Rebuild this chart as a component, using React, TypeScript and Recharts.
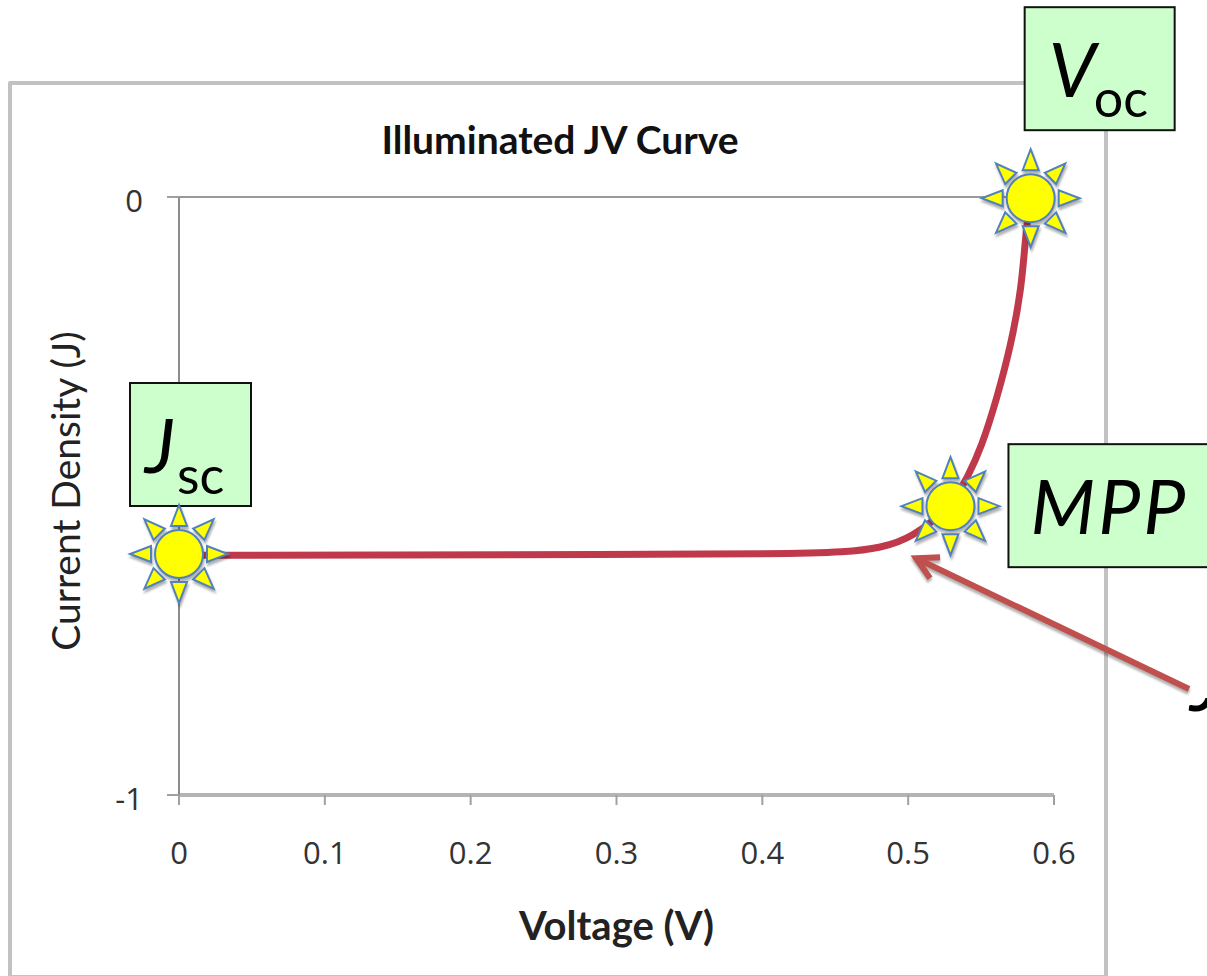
import {
  CartesianGrid,
  ComposedChart,
  Label,
  Line,
  ReferenceLine,
  Scatter,
  XAxis,
  YAxis,
} from "recharts";

const FONT = "Lato, 'Open Sans', sans-serif";
const TICK_FONT = "'Open Sans', sans-serif";

// voltage (V) and current density (J)
const curveVoltage = [0, 0.15, 0.29, 0.412, 0.458, 0.481, 0.503, 0.529, 0.541, 0.5503, 0.5606, 0.5709, 0.5777, 0.5801, 0.5822, 0.5835];
const curveCurrent = [-0.599, -0.599, -0.598, -0.597, -0.594, -0.587, -0.57, -0.517, -0.468, -0.418, -0.339, -0.244, -0.151, -0.077, -0.03, -0.002];

const pointNames = ["Jsc", "MPP", "Voc"];
const pointVoltage = [0, 0.529, 0.584];
const pointCurrent = [-0.597, -0.517, -0.002];

const voltageTicks = [0, 0.1, 0.2, 0.3, 0.4, 0.5, 0.6];
const currentTicks = [-1, 0];

// arrow from the J label at lower right to the knee of the curve
const arrowTail = { v: 0.6926, j: -0.8227 };
const arrowTip = { v: 0.5054, j: -0.604 };

const curve = curveVoltage.map((v, i) => ({ v, j: curveCurrent[i] }));
const points = pointNames.map((name, i) => ({ name, v: pointVoltage[i], j: pointCurrent[i] }));

const RAY_ANGLES = [0, 45, 90, 135, 180, 225, 270, 315];

function Callout({ cx, cy, name }: { cx: number; cy: number; name: string }) {
  const big = { fontFamily: FONT, fontStyle: "italic", fontSize: 75, fill: "#000" } as const;
  const small = { fontFamily: FONT, fontSize: 52, fill: "#000" } as const;
  const box = { fill: "#ccffcc", stroke: "#111", strokeWidth: 2 };
  if (name === "Jsc") {
    return (
      <g transform={`translate(${cx},${cy})`}>
        <rect x={-49} y={-171} width={121} height={123} {...box} />
        <text x={-34} y={-81} {...big}>J</text>
        <text x={-2} y={-60} {...small}>sc</text>
      </g>
    );
  }
  if (name === "MPP") {
    return (
      <g transform={`translate(${cx},${cy})`}>
        <rect x={58} y={-62} width={230} height={123} {...box} />
        <text x={80} y={28} letterSpacing={3} {...big}>MPP</text>
      </g>
    );
  }
  return (
    <g transform={`translate(${cx},${cy})`}>
      <rect x={-6} y={-191} width={150} height={123} {...box} />
      <text x={18} y={-101} {...big}>V</text>
      <text x={63} y={-81} {...small}>oc</text>
    </g>
  );
}

function Sun(props: any) {
  const { cx, cy, payload } = props;
  return (
    <g>
      <Callout cx={cx} cy={cy} name={payload.name} />
      <g
        transform={`translate(${cx},${cy})`}
        style={{ filter: "drop-shadow(1px 3px 1px rgba(0,0,0,0.3))" }}
      >
        {RAY_ANGLES.map((a) => (
          <polygon
            key={a}
            points="-8,-28 8,-28 0,-49"
            transform={`rotate(${a})`}
            fill="#ffff00"
            stroke="#4f81bd"
            strokeWidth={2}
            strokeLinejoin="miter"
          />
        ))}
        <circle r={24} fill="#ffff00" stroke="#4f81bd" strokeWidth={2} />
      </g>
    </g>
  );
}

function Arrow(props: any) {
  const { x1, y1, x2, y2 } = props;
  return (
    <g>
      <clipPath id="jLabelClip">
        <rect x={x1 - 10} y={y1 + 9} width={60} height={40} />
      </clipPath>
      <text
        x={x1 + 1}
        y={y1 + 22}
        fontFamily={FONT}
        fontStyle="italic"
        fontSize={75}
        fill="#000"
        clipPath="url(#jLabelClip)"
      >
        J
      </text>
      <g
        style={{ filter: "drop-shadow(0px 3px 1px rgba(0,0,0,0.3))" }}
        stroke="#c0504d"
        strokeWidth={6}
        fill="none"
      >
        <line x1={x1} y1={y1} x2={x2} y2={y2} />
        <polyline
          points={`${x2 + 24},${y2 - 1} ${x2},${y2} ${x2 + 14},${y2 + 20}`}
          strokeLinejoin="miter"
        />
      </g>
    </g>
  );
}

export default function App() {
  return (
    <div style={{ position: "absolute", left: 0, top: 0, width: 1207, height: 976, overflow: "hidden" }}>
      <div
        style={{
          position: "absolute",
          left: 8,
          top: 81,
          width: 1092,
          height: 890,
          border: "4px solid #c2c2c2",
          borderRadius: 2,
        }}
      />
      <ComposedChart
        width={1207}
        height={976}
        data={curve}
        margin={{ top: 197, right: 153, bottom: 121, left: 119 }}
        style={{ position: "absolute", left: 0, top: 0 }}
      >
        <CartesianGrid vertical={false} stroke="#9a9a9a" strokeWidth={2} />
        <XAxis
          dataKey="v"
          type="number"
          domain={[0, 0.6]}
          ticks={voltageTicks}
          interval={0}
          height={60}
          tickSize={10}
          tickMargin={37}
          axisLine={{ stroke: "#b4b4b4", strokeWidth: 4 }}
          tickLine={{ stroke: "#a0a0a0", strokeWidth: 2 }}
          tick={{ fontFamily: TICK_FONT, fontSize: 31, fill: "#333" }}
        >
          <Label
            value="Voltage (V)"
            position="center"
            dy={101}
            style={{ fontFamily: FONT, fontSize: 40, fontWeight: 700, fill: "#222" }}
          />
        </XAxis>
        <YAxis
          dataKey="j"
          type="number"
          domain={[-1, 0]}
          ticks={currentTicks}
          interval={0}
          width={60}
          tickSize={12}
          tickMargin={24}
          axisLine={{ stroke: "#8c8c8c", strokeWidth: 2 }}
          tickLine={{ stroke: "#a0a0a0", strokeWidth: 2 }}
          tick={{ fontFamily: TICK_FONT, fontSize: 31, fill: "#333", dy: 4 }}
        >
          <Label
            value="Current Density (J)"
            position="center"
            angle={-90}
            dx={-83}
            dy={-5}
            style={{ fontFamily: FONT, fontSize: 39, fill: "#222" }}
          />
        </YAxis>
        <text
          x={560}
          y={154}
          textAnchor="middle"
          fontFamily={FONT}
          fontSize={39}
          fontWeight={700}
          fill="#111"
        >
          Illuminated JV Curve
        </text>
        <Line
          type="basis"
          dataKey="j"
          stroke="#c0394b"
          strokeWidth={7}
          dot={false}
          activeDot={false}
          isAnimationActive={false}
        />
        <ReferenceLine
          segment={[
            { x: arrowTail.v, y: arrowTail.j },
            { x: arrowTip.v, y: arrowTip.j },
          ]}
          ifOverflow="visible"
          shape={Arrow}
        />
        <Scatter data={points} dataKey="j" shape={Sun} isAnimationActive={false} />
      </ComposedChart>
    </div>
  );
}
